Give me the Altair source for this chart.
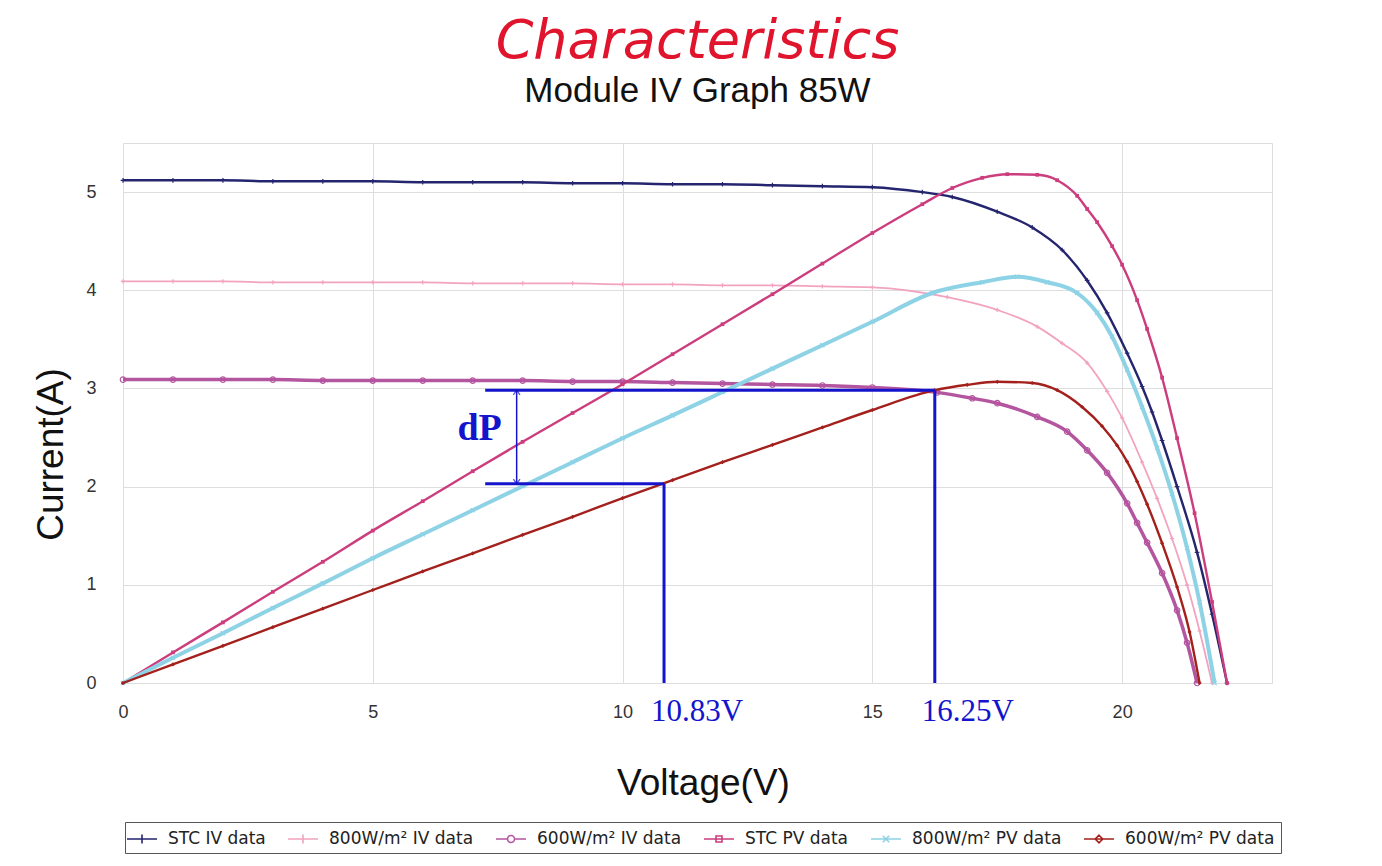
import altair as alt
import pandas as pd

# ---------------- data ----------------
SERIES = ["STC IV data", "800W/m² IV data", "600W/m² IV data",
          "STC PV data", "800W/m² PV data", "600W/m² PV data"]
COLORS = ["#25256f", "#f2a3c0", "#b4559f", "#cc3d7e", "#8ed2e6", "#a3201c"]

V_STC_IV = [0, 1, 2, 3, 4, 5, 6, 7, 8, 9, 10, 11, 12, 13, 14, 15, 16, 16.6, 17.5, 18.2, 18.8,
            19.3, 19.7, 20.1, 20.4, 20.6, 20.8, 21.1, 21.5, 21.8, 22.1]
I_STC_IV = [5.12, 5.12, 5.12, 5.11, 5.11, 5.11, 5.10, 5.10, 5.10, 5.09, 5.09, 5.08, 5.08, 5.07,
            5.06, 5.05, 5.00, 4.95, 4.80, 4.64, 4.41, 4.10, 3.77, 3.36, 3.02, 2.76, 2.47, 2.00,
            1.33, 0.70, 0.0]

V_800_IV = [0, 1, 2, 3, 4, 5, 6, 7, 8, 9, 10, 11, 12, 13, 14, 15, 16.5, 17.5, 18.3, 18.8, 19.3,
            19.7, 20.0, 20.4, 20.7, 21.0, 21.3, 21.55, 21.8]
I_800_IV = [4.09, 4.09, 4.09, 4.08, 4.08, 4.08, 4.08, 4.07, 4.07, 4.07, 4.06, 4.06, 4.05, 4.05,
            4.04, 4.03, 3.93, 3.80, 3.63, 3.46, 3.26, 2.97, 2.70, 2.25, 1.88, 1.47, 1.00, 0.53, 0.0]

V_600_IV = [0, 1, 2, 3, 4, 5, 6, 7, 8, 9, 10, 11, 12, 13, 14, 15, 16.3, 17.0, 17.5, 18.3, 18.9,
            19.3, 19.7, 20.1, 20.3, 20.5, 20.8, 21.1, 21.3, 21.5]
I_600_IV = [3.09, 3.09, 3.09, 3.09, 3.08, 3.08, 3.08, 3.08, 3.08, 3.07, 3.07, 3.06, 3.05, 3.04,
            3.03, 3.01, 2.96, 2.90, 2.85, 2.71, 2.56, 2.37, 2.14, 1.83, 1.63, 1.43, 1.12, 0.74,
            0.41, 0.0]

V_STC_PV = [0, 1, 2, 3, 4, 5, 6, 7, 8, 9, 10, 11, 12, 13, 14, 15, 16, 16.6, 17.2, 17.7, 18.3,
            18.7, 19.1, 19.3, 19.5, 19.8, 20.0, 20.3, 20.5, 20.8, 21.1, 21.45, 21.8, 22.1]
P_STC_PV = [0, 5.1, 10.1, 15.2, 20.2, 25.4, 30.3, 35.3, 40.2, 45.0, 49.8, 54.8, 59.8, 64.8, 69.9,
            75.0, 79.8, 82.5, 84.2, 84.8, 84.7, 83.8, 81.2, 79.0, 76.8, 72.8, 69.7, 63.8, 59.0,
            50.9, 40.8, 28.3, 13.5, 0.0]

V_800_PV = [0, 1, 2, 3, 4, 5, 6, 7, 8, 9, 10, 11, 12, 13, 14, 15, 16.2, 17.2, 17.9, 18.5, 19.1,
            19.5, 19.8, 20.1, 20.4, 20.7, 21.0, 21.3, 21.55, 21.85]
P_800_PV = [0, 4.2, 8.3, 12.5, 16.6, 20.8, 24.8, 28.8, 32.8, 36.8, 40.8, 44.6, 48.5, 52.4, 56.3,
            60.2, 65.0, 66.8, 67.7, 66.8, 65.0, 61.7, 57.7, 52.2, 46.0, 39.2, 31.5, 22.5, 13.5,
            0.0]

V_600_PV = [0, 1, 2, 3, 4, 5, 6, 7, 8, 9, 10, 11, 12, 13, 14, 15, 16.25, 16.9, 17.5, 18.2, 18.7,
            19.2, 19.6, 19.9, 20.1, 20.3, 20.5, 20.8, 21.1, 21.35, 21.55]
P_600_PV = [0, 3.1, 6.2, 9.3, 12.4, 15.5, 18.6, 21.6, 24.7, 27.7, 30.8, 33.8, 36.8, 39.7, 42.6,
            45.5, 48.8, 49.7, 50.2, 50.0, 48.8, 46.0, 42.8, 39.6, 36.9, 33.6, 29.8, 23.3, 16.0,
            8.5, 0.0]

# annotation (dP) values
ANN_V = [10.83, 16.25]
ANN_P = [33.2, 48.8]
ANN_LEFT_V = 7.25
ARROW_V = 7.88

X_TICKS = [0, 5, 10, 15, 20]
I_TICKS = [0, 1, 2, 3, 4, 5]
P_TICKS = [0, 15, 30, 45, 60, 75, 90]

# ---------------- styling ----------------
W, H = 1149, 540
FONT = "Liberation Sans"
BLUE = "#1414cc"

PLOT_MARKS = {
    "STC IV data": dict(path="M-1,0H1M0,-1V1", size=22, filled=False, sw=2.4),
    "800W/m² IV data": dict(path="M-1,0H1M0,-1V1", size=18, filled=False, sw=1.8),
    "600W/m² IV data": dict(path="circle", size=30, filled=False, sw=3.5),
    "STC PV data": dict(path="square", size=14, filled=True, sw=2.4),
    "800W/m² PV data": dict(path="M-1,-1L1,1M-1,1L1,-1", size=18, filled=False, sw=4.0),
    "600W/m² PV data": dict(path="diamond", size=18, filled=True, sw=2.4),
}
LEGEND_PATHS = [
    "M-1.5,0H1.5M0,-0.45V0.45",
    "M-1.5,0H1.5M0,-0.45V0.45",
    "M-1.5,0H-0.35M0.35,0H1.5M0.35,0A0.35,0.35,0,1,1,-0.35,0A0.35,0.35,0,1,1,0.35,0",
    "M-1.5,0H1.5M-0.3,-0.3H0.3V0.3H-0.3Z",
    "M-1.5,0H1.5M-0.32,-0.32L0.32,0.32M-0.32,0.32L0.32,-0.32",
    "M-1.5,0H1.5M0,-0.38L0.38,0L0,0.38L-0.38,0Z",
]

iv = pd.concat([
    pd.DataFrame({"V": V_STC_IV, "I": I_STC_IV, "series": SERIES[0]}),
    pd.DataFrame({"V": V_800_IV, "I": I_800_IV, "series": SERIES[1]}),
    pd.DataFrame({"V": V_600_IV, "I": I_600_IV, "series": SERIES[2]}),
])
pv = pd.concat([
    pd.DataFrame({"V": V_STC_PV, "P": P_STC_PV, "series": SERIES[3]}),
    pd.DataFrame({"V": V_800_PV, "P": P_800_PV, "series": SERIES[4]}),
    pd.DataFrame({"V": V_600_PV, "P": P_600_PV, "series": SERIES[5]}),
])
ann = pd.DataFrame({"V": ANN_V, "P": ANN_P, "P0": [0, 0], "VL": [ANN_LEFT_V] * 2,
                    "label": [f"{v}V" for v in ANN_V]})
arrow = pd.DataFrame({"V": [ARROW_V], "Plo": [min(ANN_P)], "Phi": [max(ANN_P)],
                      "Pmid": [sum(ANN_P) / 2], "txt": ["dP"]})

x_scale = alt.Scale(domain=[0, 23], nice=False, zero=False)
p_scale = alt.Scale(domain=[0, 90], nice=False)

x_axis = alt.Axis(values=X_TICKS, title="Voltage(V)", grid=True, gridColor="#dedede",
                  gridWidth=1, ticks=False, domain=False, labelFont=FONT, labelFontSize=18,
                  labelColor="#333", labelPadding=20, labelFlush=False, titleFont=FONT,
                  titleFontSize=37, titleFontWeight="normal", titleColor="#111", titleX=580,
                  titleY=100, titleBaseline="middle", titleAlign="center")
x_enc = alt.X("V:Q", scale=x_scale, axis=x_axis)

y_iv = alt.Y("I:Q", scale=alt.Scale(domain=[0, 5.5], nice=False),
             axis=alt.Axis(values=I_TICKS, orient="left", title="Current(A)", grid=True,
                           gridColor="#dedede", ticks=False, domain=False, labelFont=FONT,
                           labelFontSize=18, labelColor="#333", labelPadding=27,
                           labelFlush=False, titleFont=FONT, titleFontSize=37,
                           titleFontWeight="normal", titleColor="#111", titleAngle=270,
                           titleX=-72, titleY=311, titleAlign="center",
                           titleBaseline="middle"))
y_pv = alt.Y("P:Q", scale=p_scale,
             axis=alt.Axis(values=P_TICKS, orient="right", title="Power(W)", grid=False,
                           ticks=False, domain=False, labelFont=FONT, labelFontSize=18,
                           labelColor="#333", labelPadding=15, titleFont=FONT,
                           titleFontSize=37, titleFontWeight="normal", titleColor="#111",
                           titleAngle=90, titleX=84, titleY=314, titleAlign="center",
                           titleBaseline="middle"))


def series_layers(df, s, yenc):
    d = df[df["series"] == s]
    m = PLOT_MARKS[s]
    c = COLORS[SERIES.index(s)]
    line = alt.Chart(d).mark_line(strokeWidth=m["sw"], interpolate="monotone",
                                  color=c).encode(x=x_enc, y=yenc)
    pts = alt.Chart(d).mark_point(shape=m["path"], size=m["size"], filled=m["filled"],
                                  strokeWidth=1.2, opacity=1, color=c).encode(x=x_enc, y=yenc)
    return [line, pts]


iv_layers = []
for s in SERIES[:3]:
    iv_layers += series_layers(iv, s, y_iv)

leg = alt.Legend(title=None, orient="none", legendX=2, legendY=679, direction="horizontal",
                 columns=6, labelFont="DejaVu Sans", labelFontSize=17, labelColor="#222",
                 symbolSize=400, symbolStrokeWidth=1.6, labelOffset=15, columnPadding=18,
                 padding=6, strokeColor="#555", fillColor="white", symbolOpacity=1)
legend_layer = alt.Chart(iv).mark_point(filled=False, strokeWidth=1.6, opacity=0).encode(
    x=x_enc, y=y_iv,
    color=alt.Color("series:N", scale=alt.Scale(domain=SERIES, range=COLORS), legend=leg),
    shape=alt.Shape("series:N", scale=alt.Scale(domain=SERIES, range=LEGEND_PATHS),
                    legend=leg),
)
iv_layers.append(legend_layer)

pv_layers = []
for s in SERIES[3:]:
    pv_layers += series_layers(pv, s, y_pv)

# blue dP annotation
vrules = alt.Chart(ann).mark_rule(color=BLUE, strokeWidth=3).encode(
    x=x_enc, y=y_pv, y2="P0:Q")
hrules = alt.Chart(ann).mark_rule(color=BLUE, strokeWidth=3).encode(
    x=alt.X("VL:Q", scale=x_scale, axis=x_axis), x2="V:Q", y=y_pv)
vlabels = alt.Chart(ann).mark_text(color=BLUE, font="Liberation Serif", fontSize=31,
                                   align="left", baseline="middle", dx=-13).encode(
    x=x_enc, y=alt.value(H + 29), text="label:N")
arrow_rule = alt.Chart(arrow).mark_rule(color=BLUE, strokeWidth=1.5).encode(
    x=x_enc, y=alt.Y("Plo:Q", scale=p_scale, axis=None), y2="Phi:Q")
arrow_top = alt.Chart(arrow).mark_point(shape="M-0.7,1L0,0L0.7,1", size=90, filled=False,
                                        color=BLUE, strokeWidth=1.3).encode(
    x=x_enc, y=alt.Y("Phi:Q", scale=p_scale, axis=None))
arrow_bot = alt.Chart(arrow).mark_point(shape="M-0.7,-1L0,0L0.7,-1", size=90, filled=False,
                                        color=BLUE, strokeWidth=1.3).encode(
    x=x_enc, y=alt.Y("Plo:Q", scale=p_scale, axis=None))
dp_text = alt.Chart(arrow).mark_text(color=BLUE, font="Liberation Serif", fontSize=38,
                                     fontWeight="bold", align="center", baseline="middle",
                                     dx=-37, dy=-8).encode(
    x=x_enc, y=alt.Y("Pmid:Q", scale=p_scale, axis=None), text="txt:N")

pv_layers += [hrules, vrules, vlabels]
pv_group = alt.layer(*pv_layers)
ann_group = alt.layer(arrow_rule, arrow_top, arrow_bot, dp_text)
iv_group = alt.layer(*iv_layers)

chart = alt.layer(iv_group, alt.layer(pv_group, ann_group)).resolve_scale(
    y="independent").properties(
    width=W, height=H,
    title=alt.TitleParams(text="Characteristics", subtitle="Module IV Graph 85W",
                          font="DejaVu Sans", fontSize=54, fontStyle="italic",
                          fontWeight="normal", color="#e0142c", subtitleFont=FONT,
                          subtitleFontSize=35, subtitleColor="#111", anchor="middle",
                          offset=34, subtitlePadding=5),
    autosize=alt.AutoSizeParams(type="none"),
    padding={"left": 115, "top": 135, "right": 100, "bottom": 180},
).configure_view(stroke="#c6c6c6", strokeWidth=3).configure(background="white")

chart.save("out.html", embed_options={"renderer": "svg", "actions": False})
